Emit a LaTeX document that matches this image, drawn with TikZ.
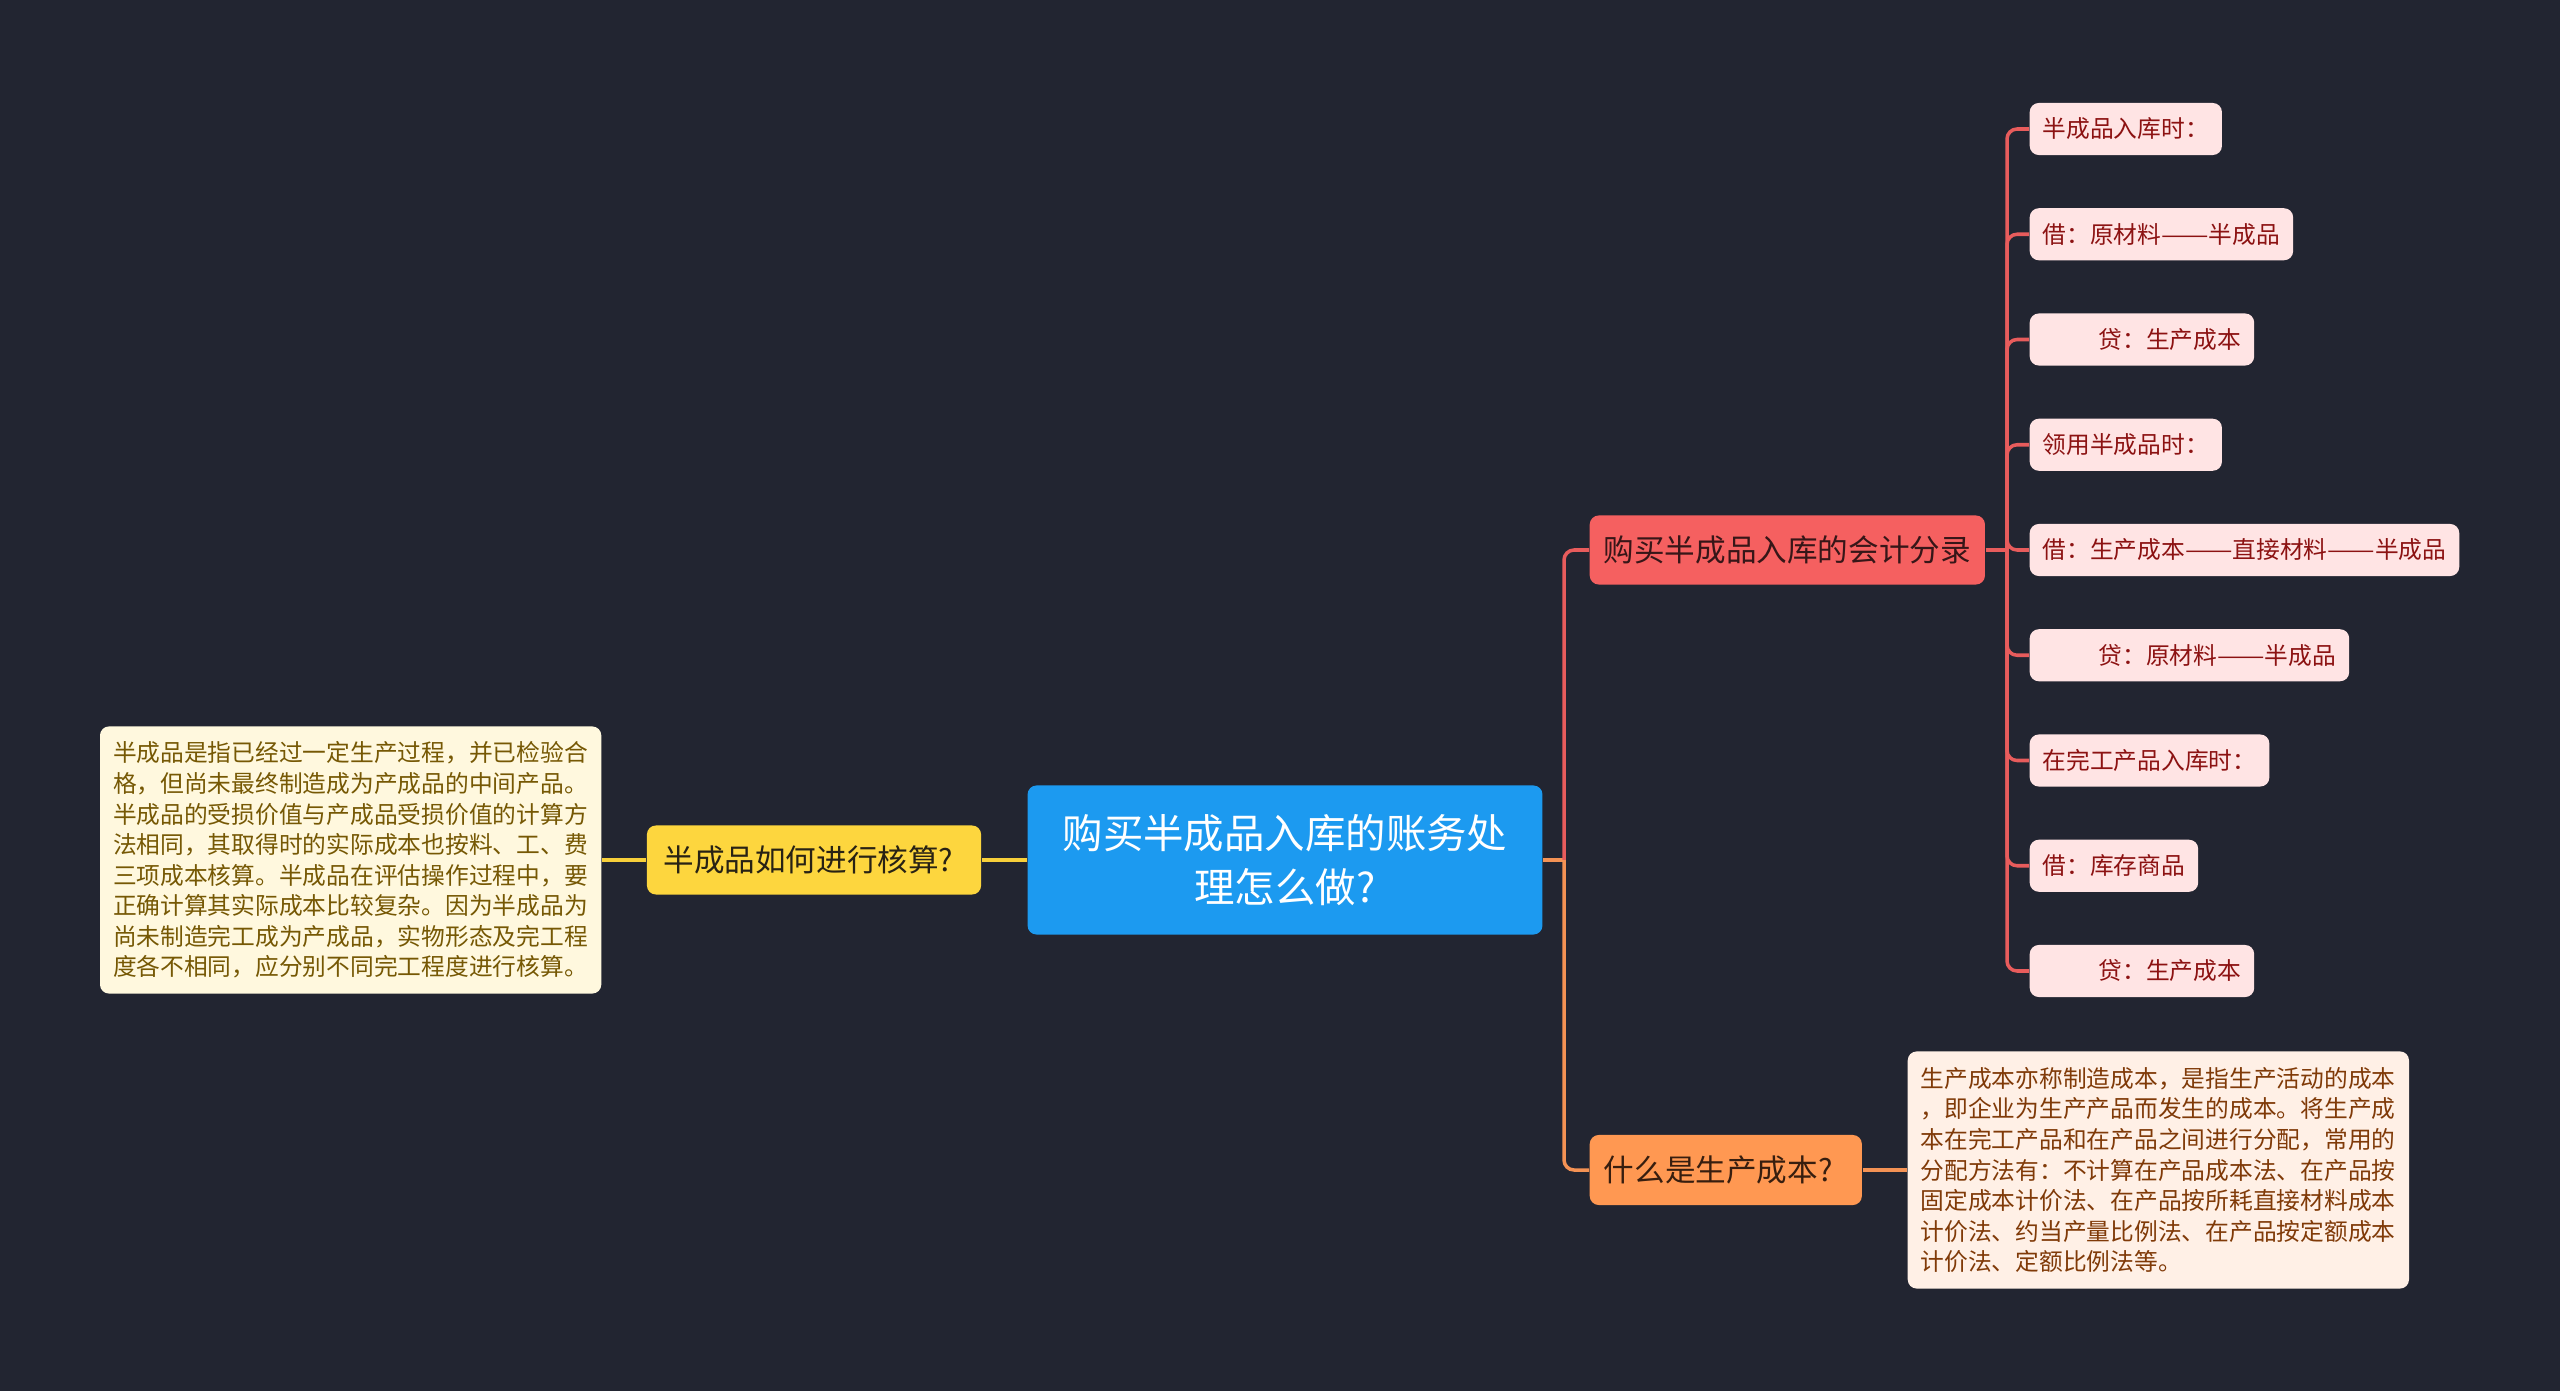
\documentclass[tikz,border=0pt]{standalone}
\usepackage{graphicx}
\usepackage{fontspec}
\setmainfont{Noto Sans CJK SC}
\definecolor{bgc}{RGB}{34,37,49}
\definecolor{cblue}{RGB}{28,154,240}
\definecolor{cyellow}{RGB}{253,214,62}
\definecolor{ydark}{RGB}{40,34,20}
\definecolor{ccream}{RGB}{255,248,222}
\definecolor{cbrown}{RGB}{118,88,4}
\definecolor{cred}{RGB}{245,96,96}
\definecolor{rdark}{RGB}{55,22,24}
\definecolor{cpink}{RGB}{255,228,228}
\definecolor{pinktext}{RGB}{140,18,18}
\definecolor{corange}{RGB}{255,152,82}
\definecolor{odark}{RGB}{55,30,15}
\definecolor{cpeach}{RGB}{255,240,230}
\definecolor{peachtext}{RGB}{128,58,8}
\definecolor{lred}{RGB}{232,92,92}
\definecolor{lorange}{RGB}{244,146,84}
\definecolor{lyellow}{RGB}{248,208,58}
\newcommand\fbig{\fontsize{11.5pt}{15.4pt}\selectfont}
\newcommand\fmid{\fontsize{8.7pt}{11pt}\selectfont}
\newcommand\fsmall{\fontsize{6.75pt}{8.68pt}\selectfont}
\newcommand\ddash{\resizebox{2em}{\height}{——}}
\begin{document}
\begin{tikzpicture}[x=0.01cm,y=-0.01cm,
  boxc/.style={rounded corners=0.09cm, inner ysep=0pt},
  leaf/.style={boxc, fill=cpink, text=pinktext, font=\fsmall, inner xsep=0.13cm, minimum height=0.52cm, anchor=west},
  rline/.style={draw=lred, line width=1pt},
  oline/.style={draw=lorange, line width=1pt},
  yline/.style={draw=lyellow, line width=1pt}]
\fill[bgc] (0,0) rectangle (2560,1391);
\useasboundingbox (0,0) rectangle (2560,1391);

\node[boxc, fill=cblue, text=white, font=\fbig, align=center, inner xsep=0.35cm, minimum height=1.49cm] (root) at (1285,860) {购买半成品入库的账务处\\理怎么做?};

\node[boxc, fill=cyellow, text=ydark, font=\fmid, minimum width=3.34cm, minimum height=0.69cm] (q1) at (814,860) {半成品如何进行核算?\hspace*{0.11cm}};

\node[boxc, fill=ccream, text=cbrown, font=\fsmall, text width=4.75cm, align=left, inner xsep=0.13cm, minimum height=2.67cm, anchor=east] (lt) at (602,860) {半成品是指已经过一定生产过程，并已检验合\\格，但尚未最终制造成为产成品的中间产品。\\半成品的受损价值与产成品受损价值的计算方\\法相同，其取得时的实际成本也按料、工、费\\三项成本核算。半成品在评估操作过程中，要\\正确计算其实际成本比较复杂。因为半成品为\\尚未制造完工成为产成品，实物形态及完工程\\度各不相同，应分别不同完工程度进行核算。};

\node[boxc, fill=cred, text=rdark, font=\fmid, minimum width=3.95cm, minimum height=0.69cm, anchor=west] (r) at (1589,550) {购买半成品入库的会计分录};

\node[boxc, fill=corange, text=odark, font=\fmid, minimum width=2.72cm, minimum height=0.70cm, anchor=west] (o) at (1589,1170) {什么是生产成本?\hspace*{0.15cm}};

\node[boxc, fill=cpeach, text=peachtext, font=\fsmall, text width=4.75cm, align=left, inner xsep=0.13cm, minimum height=2.37cm, anchor=west] (rt) at (1907,1170) {生产成本亦称制造成本，是指生产活动的成本\\，即企业为生产产品而发生的成本。将生产成\\本在完工产品和在产品之间进行分配，常用的\\分配方法有：不计算在产品成本法、在产品按\\固定成本计价法、在产品按所耗直接材料成本\\计价法、约当产量比例法、在产品按定额成本\\计价法、定额比例法等。};

\node[leaf] (c1) at (2029,129) {半成品入库时：};
\node[leaf] (c2) at (2029,234.25) {借：原材料\ddash 半成品};
\node[leaf] (c3) at (2029,339.5) {\hspace*{0.56cm}贷：生产成本};
\node[leaf] (c4) at (2029,444.75) {领用半成品时：};
\node[leaf] (c5) at (2029,550) {借：生产成本\ddash 直接材料\ddash 半成品};
\node[leaf] (c6) at (2029,655.25) {\hspace*{0.56cm}贷：原材料\ddash 半成品};
\node[leaf] (c7) at (2029,760.5) {在完工产品入库时：};
\node[leaf] (c8) at (2029,865.75) {借：库存商品};
\node[leaf] (c9) at (2029,971) {\hspace*{0.56cm}贷：生产成本};

\draw[yline] (root.west) -- (q1.east);
\draw[yline] (q1.west) -- (lt.east);

\coordinate (j1) at (1564,860);
\draw[oline] (root.east) -- (j1);
\draw[rline, rounded corners=0.1cm] (j1) |- (r.west);
\draw[oline, rounded corners=0.1cm] (j1) |- (o.west);
\draw[oline] (o.east) -- (rt.west);

\coordinate (j2) at (2007,550);
\draw[rline] (r.east) -- (j2);
\foreach \nm in {c1,c2,c3,c4,c5,c6,c7,c8,c9}
  \draw[rline, rounded corners=0.1cm] (j2) |- (\nm.west);
\end{tikzpicture}
\end{document}
